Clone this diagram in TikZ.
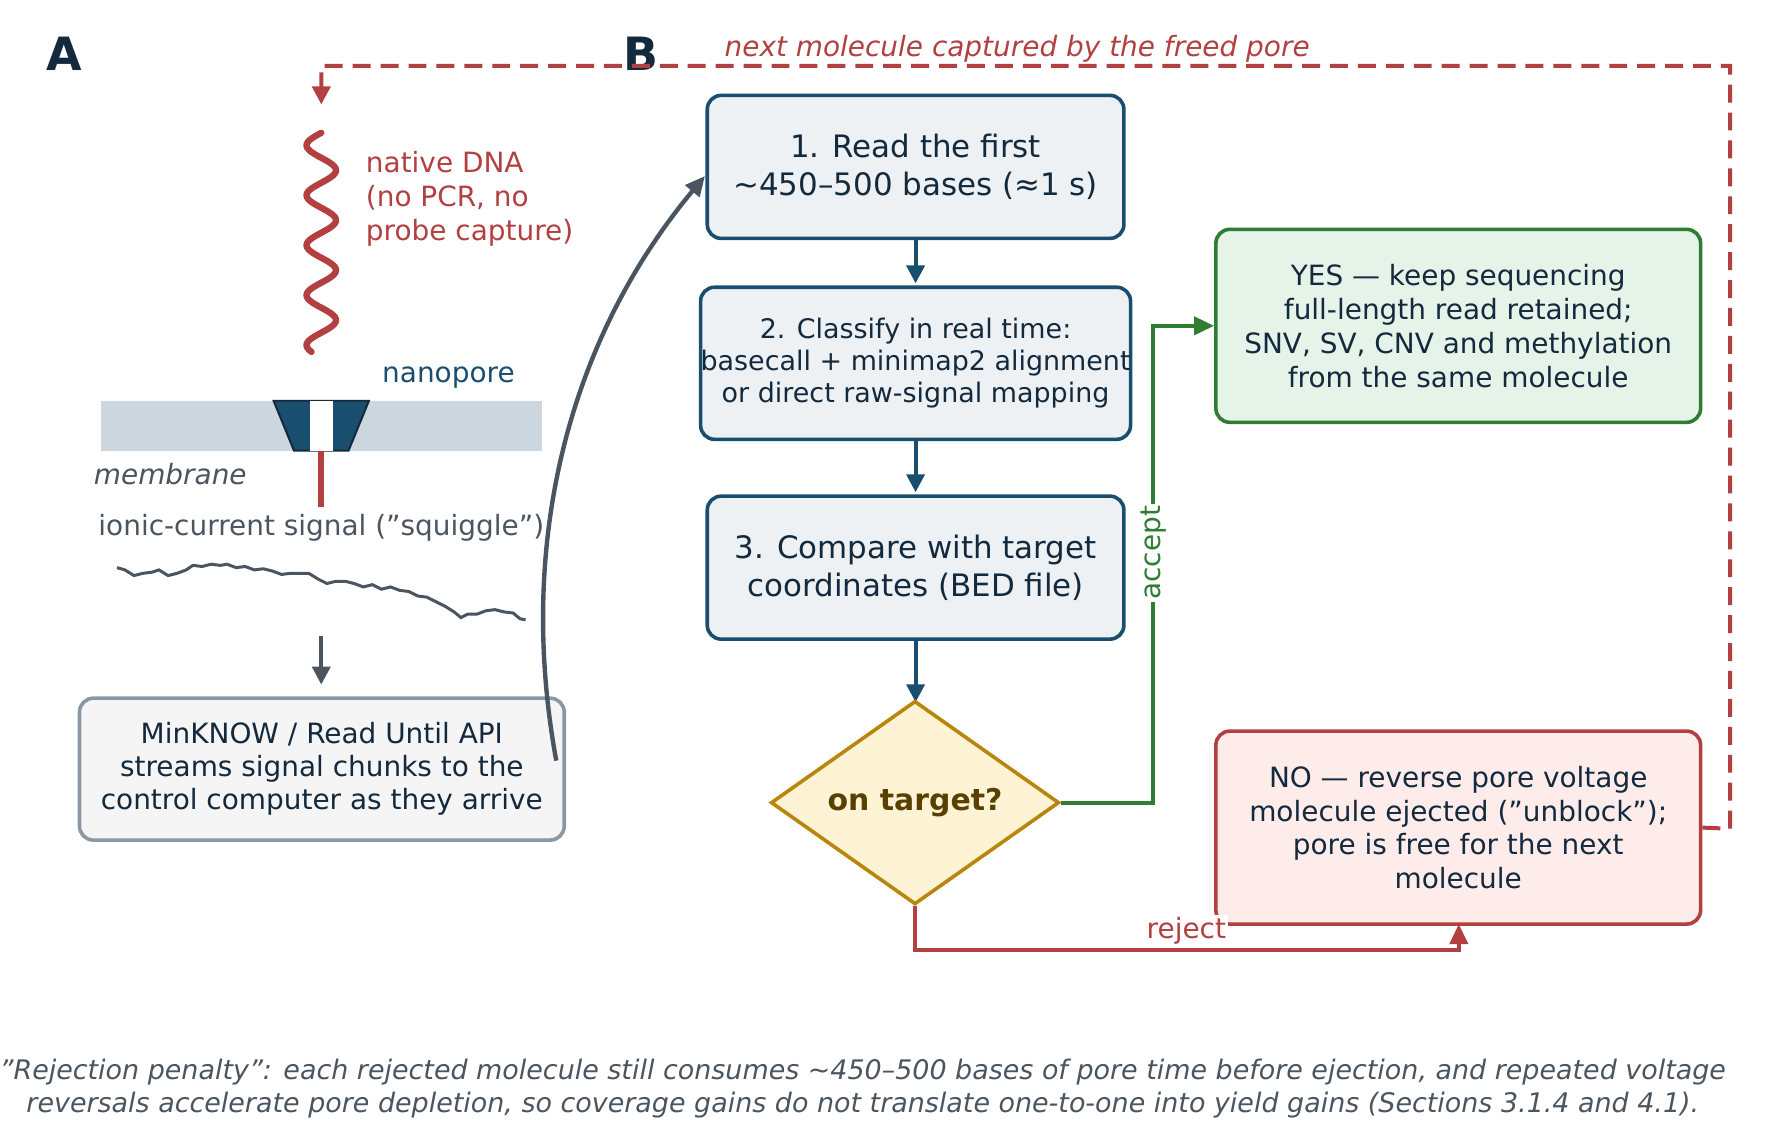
\documentclass[tikz,border=0pt]{standalone}
\usepackage{fontspec}
\setmainfont{DejaVu Sans}
\usetikzlibrary{arrows.meta,shapes.geometric}
\definecolor{dblue}{HTML}{1A4E6E}
\definecolor{txt}{HTML}{13293D}
\definecolor{rd}{HTML}{B24040}
\definecolor{gr}{HTML}{2E7D32}
\definecolor{gy}{HTML}{4A5560}
\tikzset{
 bx/.style={draw=dblue,fill=dblue!8,line width=1.8pt,rounded corners=7pt,align=center,text=txt,inner sep=0pt},
 arr/.style={line width=2pt,-{Triangle[length=9pt,width=9pt]}},
}
\begin{document}
\begin{tikzpicture}[x=0.02cm,y=-0.02cm]
\useasboundingbox (0,0) rectangle (1560,1008);
\node[font=\bfseries\fontsize{23}{26}\selectfont,text=txt] (A) at (57,47) {A};
\node[font=\bfseries\fontsize{23}{26}\selectfont,text=txt] (B) at (565,47) {B};
% left panel
\coordinate (dtop) at (283,92);
\draw[rd,line width=3.2pt,line cap=round] plot[domain=0:193,samples=120,smooth] ({283-13*sin(\x*8.18)},{117+\x});
\node[anchor=north west,align=left,text=rd,font=\fontsize{14}{17}\selectfont,inner sep=0pt] (dnal) at (322,133) {native DNA\\(no PCR, no\\probe capture)};
\fill[fill={rgb,255:red,203;green,214;blue,223}] (89,353) rectangle (477,397);
\fill[dblue] (241,353) -- (325,353) -- (307,397) -- (259,397) -- cycle;
\draw[txt,line width=1pt] (241,353) -- (325,353) -- (307,397) -- (259,397) -- cycle;
\fill[white] (273,353) rectangle (293,397);
\node[text=dblue,font=\fontsize{14}{17}\selectfont] (np) at (395,333) {nanopore};
\node[text=gy,font=\itshape\fontsize{14}{17}\selectfont] (mem) at (150,418) {membrane};
\draw[rd,line width=3.2pt] (283,397) -- (283,447);
\node[text=gy,font=\fontsize{14}{17}\selectfont] (sig) at (283,465) {ionic-current signal ("squiggle")};
\draw[gy,line width=1.5pt] (103,500) -- (110,502) -- (118,507) -- (126,505) -- (134,504) -- (140,502) -- (148,507) -- (156,505) -- (164,502) -- (170,498) -- (178,499) -- (186,497) -- (194,498) -- (200,497) -- (208,500) -- (216,499) -- (224,502) -- (232,501) -- (240,503) -- (248,506) -- (256,505) -- (264,505) -- (272,505) -- (280,510) -- (288,514) -- (296,512) -- (304,512) -- (312,514) -- (320,517) -- (328,515) -- (336,519) -- (344,517) -- (352,520) -- (360,521) -- (368,525) -- (376,526) -- (384,530) -- (392,534) -- (400,539) -- (406,544) -- (412,541) -- (420,541) -- (428,538) -- (436,537) -- (444,539) -- (452,540) -- (458,545) -- (463,546);
\coordinate (a1) at (283,560); \coordinate (a2) at (283,603);
\draw[arr,gy] (a1) -- (a2);
\node[draw={rgb,255:red,138;green,152;blue,163},fill={rgb,255:red,245;green,245;blue,245},line width=1.8pt,rounded corners=7pt,minimum width=427*0.02cm,minimum height=125*0.02cm,align=center,text=txt,font=\fontsize{14}{16.5}\selectfont] (mk) at (283.5,677.5) {MinKNOW / Read Until API\\streams signal chunks to the\\control computer as they arrive};
% B
\node[bx,minimum width=367*0.02cm,minimum height=126*0.02cm,font=\fontsize{15.5}{19}\selectfont] (b1) at (806.5,147) {1. Read the first\\\textasciitilde 450–500 bases (≈1 s)};
\node[bx,minimum width=367*0.02cm,minimum height=134*0.02cm,font=\fontsize{13.5}{16}\selectfont] (b2) at (806.5,320) {2. Classify in real time:\\basecall + minimap2 alignment\\or direct raw-signal mapping};
\node[bx,minimum width=367*0.02cm,minimum height=126*0.02cm,font=\fontsize{15.5}{19}\selectfont] (b3) at (806.5,500) {3. Compare with target\\coordinates (BED file)};
\coordinate (ce) at (490,670); \coordinate (ct) at (621,155);
\draw[gy,line width=2.2pt,-{Triangle[length=10pt,width=9pt]}] (ce) .. controls (455,480) and (500,300) .. (ct);
\draw[arr,dblue] (b1.south) -- ++(0,38);
\draw[arr,dblue] (b2.south) -- ++(0,45);
\draw[arr,dblue] (b3.south) -- ++(0,54);
\node[diamond,draw={rgb,255:red,184;green,134;blue,11},fill={rgb,255:red,255;green,243;blue,214},line width=1.8pt,minimum width=254*0.02cm,minimum height=162*0.02cm,inner sep=0pt,font=\bfseries\fontsize{15}{18}\selectfont,text={rgb,255:red,90;green,64;blue,0}] (dm) at (806,707) {on target?};
\node[bx,draw=gr,fill={rgb,255:red,230;green,243;blue,232},minimum width=427*0.02cm,minimum height=170*0.02cm,font=\fontsize{14}{17}\selectfont] (yes) at (1284.5,287) {YES — keep sequencing\\full-length read retained;\\SNV, SV, CNV and methylation\\from the same molecule};
\node[bx,draw=rd,fill={rgb,255:red,253;green,236;blue,234},minimum width=427*0.02cm,minimum height=170*0.02cm,font=\fontsize{14}{17}\selectfont] (no) at (1284.5,729) {NO — reverse pore voltage\\molecule ejected ("unblock");\\pore is free for the next\\molecule};
\draw[gr,line width=2pt,-{Triangle[length=10pt,width=9pt]}] (dm.east) -- (1016,707) -- (1016,287) -- (yes.west);
\node[fill=white,rotate=90,text=gr,font=\fontsize{14}{17}\selectfont,inner sep=1pt] (acc) at (1016,487) {accept};
\coordinate (nob) at (1285,814);
\draw[rd,line width=2pt,-{Triangle[length=10pt,width=9pt]}] (dm.south) -- (806,837) -- (1285,837) -- (nob);
\node[fill=white,text=rd,font=\fontsize{14}{17}\selectfont,inner sep=1pt] (rej) at (1045,820) {reject};
\draw[rd,line width=2pt,dash pattern=on 9pt off 5pt,-{Triangle[length=9pt,width=9pt]}] (no.east) -- (1524,730) -- (1524,58) -- (283,58) -- (dtop);
\node[text=rd,font=\itshape\fontsize{14}{17}\selectfont] (nl) at (896,43) {next molecule captured by the freed pore};
\node[text=gy,align=center,font=\itshape\fontsize{13.5}{16.5}\selectfont] (ft) at (760,959) {"Rejection penalty": each rejected molecule still consumes \textasciitilde 450–500 bases of pore time before ejection, and repeated voltage\\reversals accelerate pore depletion, so coverage gains do not translate one-to-one into yield gains (Sections 3.1.4 and 4.1).};
\end{tikzpicture}
\end{document}
